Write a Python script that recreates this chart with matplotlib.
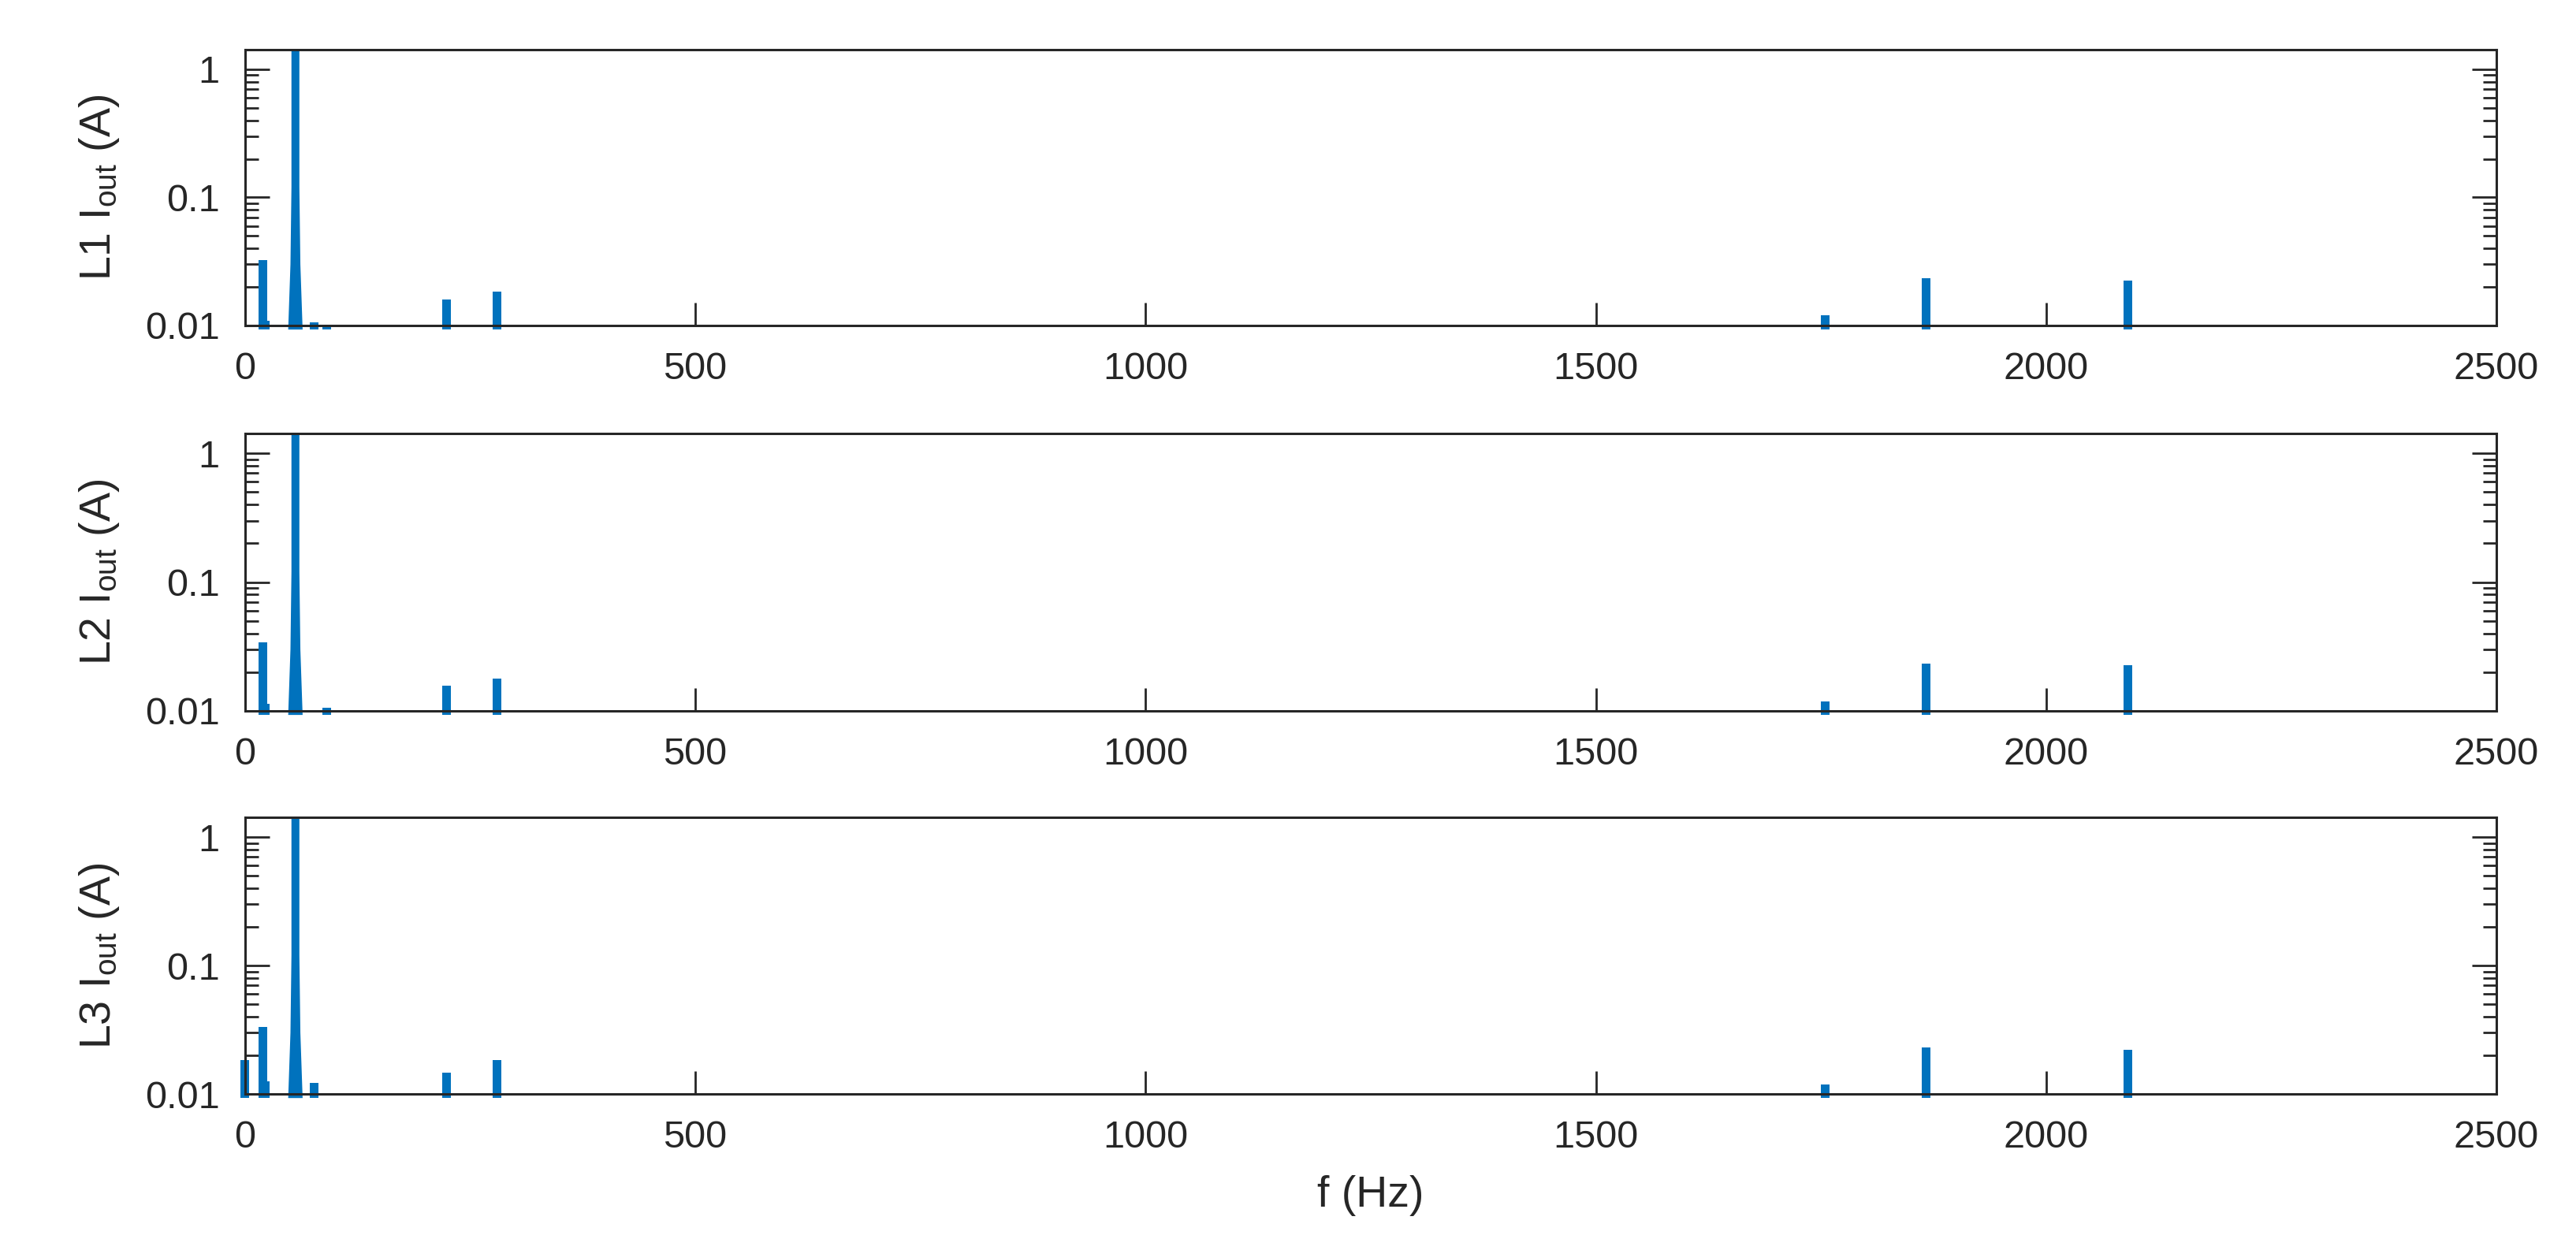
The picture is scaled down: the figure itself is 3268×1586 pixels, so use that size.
import numpy as np
import matplotlib
matplotlib.use("Agg")
import matplotlib.pyplot as plt

plt.rcParams["font.family"] = ["Liberation Sans", "DejaVu Sans"]
plt.rcParams["mathtext.fontset"] = "custom"
plt.rcParams["mathtext.rm"] = "Liberation Sans"
plt.rcParams["mathtext.it"] = "Liberation Sans:italic"

BLUE = "#0072BD"
AX = "#262626"

# harmonic lines (Hz, A)
fund_f = 56
l1_fund = 1.6
l2_fund = 1.6
l3_fund = 1.6

l1_f = [20, 77, 91, 224, 280, 1755, 1867, 2091]
l1_i = [0.0323, 0.0106, 0.0101, 0.0160, 0.0185, 0.0121, 0.0234, 0.0224]
l2_f = [20, 91, 224, 280, 1755, 1867, 2091]
l2_i = [0.0342, 0.0106, 0.0157, 0.0179, 0.0119, 0.0233, 0.0226]
l3_f = [0, 20, 77, 224, 280, 1755, 1867, 2091]
l3_i = [0.0184, 0.0334, 0.0122, 0.0147, 0.0184, 0.0119, 0.0229, 0.0221]

# small shoulder next to the 20 Hz line
shoulder_f = 23.5
shoulder_i = [0.0109, 0.0114, 0.0126]

labels = ["L1 I$_{\\mathrm{out}}$ (A)", "L2 I$_{\\mathrm{out}}$ (A)", "L3 I$_{\\mathrm{out}}$ (A)"]
xticks = [0, 500, 1000, 1500, 2000, 2500]
YMIN, YMAX = 0.01, 1.425
BASE = 0.0093   # lines poke a little below the axis, like the original

fig = plt.figure(figsize=(16.34, 7.93), dpi=200)
boxes = [(0.0951, 0.7396, 0.8740, 0.2207),
         (0.0951, 0.4313, 0.8740, 0.2219),
         (0.0951, 0.1248, 0.8740, 0.2213)]

series = [(l1_f, l1_i, l1_fund), (l2_f, l2_i, l2_fund), (l3_f, l3_i, l3_fund)]

for k, (box, (f, i, fund)) in enumerate(zip(boxes, series)):
    ax = fig.add_axes(box)
    ax.set_yscale("log")
    ax.set_xlim(0, 2500)
    ax.set_ylim(YMIN, YMAX)

    ax.bar(f, np.array(i) - BASE, bottom=BASE, width=9.5, color=BLUE,
           linewidth=0, clip_on=False, zorder=3)
    ax.bar([shoulder_f], [shoulder_i[k] - BASE], bottom=BASE, width=7,
           color=BLUE, linewidth=0, clip_on=False, zorder=3)
    # fundamental, slightly flared at the foot
    top = min(fund, YMAX)
    px = [fund_f - 8, fund_f - 5.5, fund_f - 4.4, fund_f - 4.4,
          fund_f + 4.4, fund_f + 4.4, fund_f + 5.5, fund_f + 8]
    py = [BASE, 0.03, 0.12, top, top, 0.12, 0.03, BASE]
    ax.fill(px, py, color=BLUE, linewidth=0, clip_on=False, zorder=3)

    ax.set_xticks(xticks)
    ax.set_xticklabels([str(t) for t in xticks])
    ax.set_yticks([0.01, 0.1, 1])
    ax.set_yticklabels(["0.01", "0.1", "1"])
    ax.tick_params(which="both", direction="in", top=False, right=True,
                   color=AX, labelcolor=AX, labelsize=17.5, width=1.0)
    ax.tick_params(axis="y", which="major", length=11, pad=11.5)
    ax.tick_params(axis="y", which="minor", length=6)
    ax.tick_params(axis="x", which="major", length=10.5, pad=12)
    ax.tick_params(axis="x", which="minor", bottom=False, top=False)
    for s in ax.spines.values():
        s.set_color(AX)
        s.set_linewidth(1.1)
        s.set_zorder(4)

    ax.set_ylabel(labels[k], fontsize=20, color=AX)
    ax.yaxis.set_label_coords(-0.055, 0.5)
    if k == 2:
        ax.set_xlabel("f (Hz)", fontsize=20, color=AX, labelpad=9)

fig.savefig("out.png", dpi=200)
